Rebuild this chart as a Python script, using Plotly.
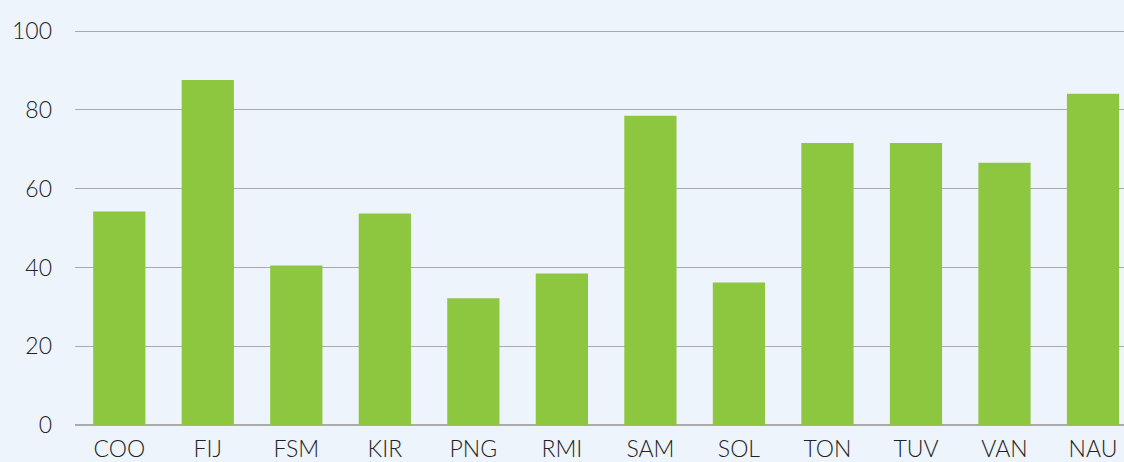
import plotly.graph_objects as go

categories = ["COO", "FIJ", "FSM", "KIR", "PNG", "RMI", "SAM", "SOL", "TON", "TUV", "VAN", "NAU"]
values = [54.2, 87.6, 40.5, 53.7, 32.2, 38.5, 78.5, 36.2, 71.6, 71.6, 66.6, 84.1]
y_ticks = [0, 20, 40, 60, 80, 100]

bg = "#EEF4FB"
fig = go.Figure(go.Bar(x=categories, y=values, marker_color="#8DC63F",
                       marker_line_width=0, width=0.59))
fig.update_layout(
    width=1124, height=462,
    margin=dict(l=75, r=0, t=30, b=37),
    paper_bgcolor=bg, plot_bgcolor=bg,
    font=dict(family="Lato, Open Sans, sans-serif", size=23, color="#222222", weight=300),
    showlegend=False,
)
fig.update_xaxes(range=[-0.5, 11.35], showgrid=False, showline=False, automargin=False,
                 ticks="outside", ticklen=3, tickcolor="rgba(0,0,0,0)",
                 tickfont=dict(size=23, weight=300))
fig.update_yaxes(range=[0, 100.3], tickvals=y_ticks, showgrid=True, gridcolor="#AAAAAA",
                 gridwidth=1, zeroline=True, zerolinecolor="#AAAAAA", zerolinewidth=1.5,
                 showline=False, automargin=False, ticklabelstandoff=22,
                 tickfont=dict(size=23, weight=300))
fig.write_html("out.html", config={"displayModeBar": False},
               post_script="document.body.style.margin='0';document.body.style.overflow='hidden';")
